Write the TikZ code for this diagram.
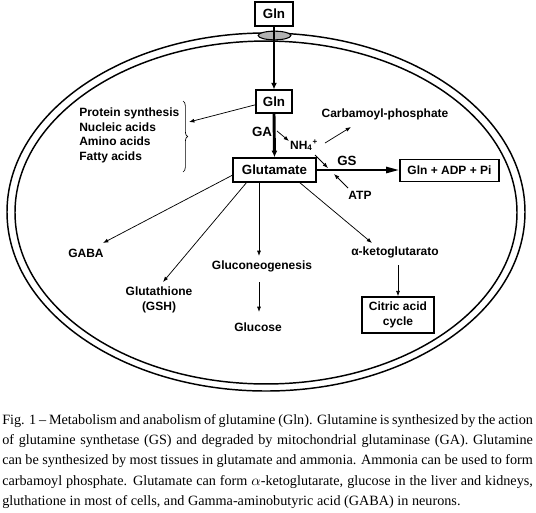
\documentclass[tikz,border=0pt]{standalone}
\usepackage{fontspec}
\setmainfont{Liberation Serif}
\setsansfont{Liberation Sans}
\usetikzlibrary{arrows.meta,decorations.pathreplacing,calc,shapes.geometric}
\begin{document}
\begin{tikzpicture}[x=0.75pt,y=-0.75pt,
  lbl/.style={font=\sffamily\bfseries\fontsize{9}{11}\selectfont, inner sep=0pt},
  big/.style={font=\sffamily\bfseries\fontsize{10}{12}\selectfont, inner sep=0pt},
  bx/.style={draw, line width=1.1pt, font=\sffamily\bfseries\fontsize{10}{12}\selectfont, inner sep=0pt, align=center},
  smallbx/.style={bx, font=\sffamily\bfseries\fontsize{9}{11.25}\selectfont},
  arr/.style={line width=0.55pt, -{Latex[length=4pt,width=3pt]}},
  thickarr/.style={-{Latex[length=5pt,width=4.5pt]}},
  membrane/.style={line width=1.1pt},
  captxt/.style={font=\rmfamily\fontsize{10.65}{15.6}\selectfont, inner sep=0pt, anchor=base west}
]
\useasboundingbox (0,0) rectangle (536,512);

% cell membrane (double line)
\draw[membrane] (266,212) ellipse [x radius=194.25pt, y radius=134.25pt];
\draw[membrane] (266,212.5) ellipse [x radius=188.25pt, y radius=128.6pt];
% transporter
\node[draw, line width=0.8pt, fill=gray!60, ellipse, minimum width=24.5pt, minimum height=6.5pt, inner sep=0pt] (trans) at (274.5,35.5) {};

% boxes
\node[bx, minimum width=28.5pt, minimum height=18pt] (glntop) at (274,14) {Gln};
\node[bx, minimum width=27pt, minimum height=17pt] (glnin) at (274,101.5) {Gln};
\node[bx, minimum width=62pt, minimum height=18pt] (glu) at (274.5,170) {Glutamate};
\node[smallbx, minimum width=74pt, minimum height=16.5pt] (prod) at (449.5,170.5) {Gln + ADP + Pi};
\node[smallbx, minimum width=54pt, minimum height=27pt] (cac) at (398,315) {Citric acid\\cycle};

% labels
\node[big] (ga) at (262,132) {GA};
\node[lbl] (nh4) at (304,145) {NH\textsubscript{4}\textsuperscript{+}};
\node[lbl] (carb) at (385,114) {Carbamoyl-phosphate};
\node[big] (gs) at (347,161) {GS};
\node[lbl] (atp) at (360,195) {ATP};
\node[lbl, align=left, anchor=west, font=\sffamily\bfseries\fontsize{9}{10.9}\selectfont] (list) at (79,135.5) {Protein synthesis\\Nucleic acids\\Amino acids\\Fatty acids};
\node[lbl] (gaba) at (86,253) {GABA};
\node[lbl, align=center, font=\sffamily\bfseries\fontsize{9}{11.25}\selectfont] (gsh) at (159,299.5) {Glutathione\\(GSH)};
\node[lbl] (gng) at (262,266) {Gluconeogenesis};
\node[lbl] (glc) at (258,327) {Glucose};
\node[lbl] (akg) at (395,252) {α-ketoglutarato};

% brace
\draw[decorate, decoration={brace, amplitude=3.5pt}, line width=0.5pt] (183,101) -- (183,172);
\coordinate (bt) at (189,122);

% free ends of connectors
\coordinate (g1) at (277,131);
\coordinate (n1) at (289,141);
\coordinate (n2) at (325,143);
\coordinate (c1) at (351,127);
\coordinate (n3) at (315,155);
\coordinate (s1) at (328,168);
\coordinate (a1) at (348,188);
\coordinate (s2) at (334,174);
\coordinate (gabat) at (103,243);
\coordinate (u2) at (247,182);
\coordinate (gsht) at (163,282);
\coordinate (u3) at (259,182);
\coordinate (gngt) at (259,256);
\coordinate (gngb) at (259,282);
\coordinate (glct) at (259,312);
\coordinate (u4) at (299,182);
\coordinate (akgt) at (372,243);
\coordinate (akgb) at (398,265);

% main thick arrows
\draw[thickarr, line width=1.6pt] (glntop.south) -- (glnin.north);
\draw[thickarr, line width=2.2pt] (glnin.south) -- (glu.north);
\draw[line width=1.8pt, -{Triangle[length=10pt,width=4.5pt]}] (glu.east) -- (glu.east -| prod.west);

% thin arrows
\draw[arr] (glnin.190) -- (bt);
\draw[arr] (g1) -- (n1);
\draw[arr] (n2) -- (c1);
\draw[arr] (n3) -- (s1);
\draw[arr] (a1) -- (s2);
\draw[arr] (glu.187) -- (gabat);
\draw[arr] (u2) -- (gsht);
\draw[arr] (u3) -- (gngt);
\draw[arr] (gngb) -- (glct);
\draw[arr] (u4) -- (akgt);
\draw[arr] (akgb) -- (cac.north);

% caption
\node[captxt] (cap1) at (2,424) {\makebox[398pt][s]{Fig. 1 – Metabolism and anabolism of glutamine (Gln). Glutamine is synthesized by the action}};
\node[captxt] (cap2) at (2,444.5) {\makebox[398pt][s]{of glutamine synthetase (GS) and degraded by mitochondrial glutaminase (GA). Glutamine}};
\node[captxt] (cap3) at (2,464.5) {\makebox[398pt][s]{can be synthesized by most tissues in glutamate and ammonia. Ammonia can be used to form}};
\node[captxt] (cap4) at (2,485) {\makebox[398pt][s]{carbamoyl phosphate. Glutamate can form $\alpha$-ketoglutarate, glucose in the liver and kidneys,}};
\node[captxt] (cap5) at (2,505) {gluthatione in most of cells, and Gamma-aminobutyric acid (GABA) in neurons.};
\end{tikzpicture}
\end{document}
